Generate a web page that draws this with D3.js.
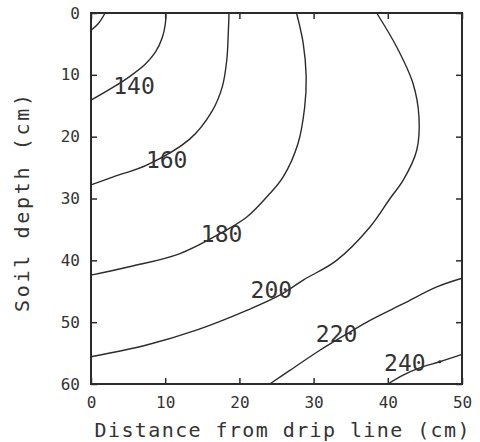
<!DOCTYPE html>
<html><head><meta charset="utf-8">
<script src="https://cdn.jsdelivr.net/npm/d3@7"></script>
<style>
html,body{margin:0;padding:0;background:#fff;}
svg{display:block;}
</style></head>
<body>
<svg id="chart" width="480" height="442"></svg>
<script>
// Contour lines: [distance (cm), depth (cm)]
const contour120 = [[1.9,0],[1.0,1.7],[0,2.8]];
const contour140 = [[10.1,0],[10.0,1.9],[9.6,4.0],[8.7,6.3],[7.3,8.3],[5.3,10.2],[3.0,12.0],[0,14.1]];
const contour160 = [[18.6,0],[18.5,3.3],[18.3,7.6],[17.7,11.9],[16.3,15.9],[13.3,20.4],[7.5,24.6],[3.0,26.5],[0,27.8]];
const contour180 = [[27.7,0],[28.6,4.9],[29.0,10.3],[28.8,15.2],[27.9,21.1],[25.9,26.5],[24.1,29.2],[21.0,33.0],[17.8,35.4],[12.0,38.9],[5.3,41.0],[0,42.4]];
const contour200 = [[38.5,0],[41.2,5.5],[43.4,11.4],[44.2,16.8],[43.9,22.2],[42.1,27.0],[40.3,30.0],[37.6,34.6],[33.1,40.0],[28.6,43.2],[25.5,45.6],[21.0,48.1],[14.2,51.3],[7.5,53.7],[0,55.6]];
const contour220 = [[50,42.9],[46.6,44.3],[42.1,47.0],[37.6,49.7],[34.9,51.6],[30.9,54.5],[26.8,57.8],[24.1,60]];
const contour240 = [[50,55.2],[47.0,56.4],[44.3,57.4],[42.0,58.6],[40.0,60]];
const contourLines = [contour120, contour140, contour160, contour180, contour200, contour220, contour240];

// Contour labels: text and position [distance, depth]
const labelTexts = ["140","160","180","200","220","240"];
const labelPositions = [[5.8,11.8],[10.2,23.8],[17.6,35.7],[24.3,44.8],[33.1,51.9],[42.3,56.6]];

const markerPoints = [[47.0,56.4]];

const xTickValues = [0,10,20,30,40,50];
const xTickLabels = ["0","10","20","30","40","50"];
const yTickValues = [0,10,20,30,40,50,60];
const yTickLabels = ["0","10","20","30","40","50","60"];

const xTitle = "Distance from drip line (cm)";
const yTitle = "Soil depth (cm)";

const svg = d3.select("#chart");
const m = {left:91, top:13, right:18, bottom:58};
const W = 480 - m.left - m.right, H = 442 - m.top - m.bottom;
const x = d3.scaleLinear().domain([0,50]).range([0,W]);
const y = d3.scaleLinear().domain([0,60]).range([0,H]);
const ink = "#2b2b2b";
const g = svg.append("g").attr("transform",`translate(${m.left},${m.top})`);

// contour lines
const line = d3.line().x(d=>x(d[0])).y(d=>y(d[1])).curve(d3.curveCatmullRom.alpha(0.5));
g.selectAll("path.c").data(contourLines).join("path")
  .attr("class","c").attr("d",line).attr("fill","none")
  .attr("stroke",ink).attr("stroke-width",1.4);

g.selectAll("circle.mk").data(markerPoints).join("circle")
  .attr("cx",d=>x(d[0])).attr("cy",d=>y(d[1])).attr("r",1.6).attr("fill",ink);

// labels
g.selectAll("text.lab").data(labelTexts).join("text")
  .attr("class","lab")
  .attr("x",(d,i)=>x(labelPositions[i][0]))
  .attr("y",(d,i)=>y(labelPositions[i][1]))
  .attr("dy","0.36em").attr("text-anchor","middle")
  .attr("font-family","DejaVu Sans Mono").attr("font-size",23)
  .attr("fill","#333").text(d=>d);

// axes
const fontTick = g=>g.selectAll("text").attr("font-family","DejaVu Sans Mono").attr("font-size",16).attr("fill","#333");
const styleAx = a=>{a.select(".domain").remove(); a.selectAll("line").attr("stroke",ink).attr("stroke-width",1.5);};

const xb = g.append("g").attr("transform",`translate(0,${H})`)
  .call(d3.axisBottom(x).tickValues(xTickValues).tickFormat((d,i)=>xTickLabels[i]).tickSizeInner(-6).tickSizeOuter(0).tickPadding(13));
styleAx(xb); fontTick(xb);
const yl = g.append("g")
  .call(d3.axisLeft(y).tickValues(yTickValues).tickFormat((d,i)=>yTickLabels[i]).tickSizeInner(-6).tickSizeOuter(0).tickPadding(11));
styleAx(yl); fontTick(yl);
const xt = g.append("g").call(d3.axisTop(x).tickValues(xTickValues).tickFormat("").tickSizeInner(-6).tickSizeOuter(0));
styleAx(xt);
const yr = g.append("g").attr("transform",`translate(${W},0)`)
  .call(d3.axisRight(y).tickValues(yTickValues).tickFormat("").tickSizeInner(-6).tickSizeOuter(0));
styleAx(yr);

// frame
g.append("rect").attr("width",W).attr("height",H).attr("fill","none")
  .attr("stroke",ink).attr("stroke-width",2);

// titles
svg.append("text").attr("x",282).attr("y",437).attr("text-anchor","middle")
  .attr("font-family","DejaVu Sans Mono").attr("font-size",20).attr("fill","#333")
  .attr("textLength",375).attr("lengthAdjust","spacing").text(xTitle);
svg.append("text").attr("transform","translate(29,203) rotate(-90)").attr("text-anchor","middle")
  .attr("font-family","DejaVu Sans Mono").attr("font-size",20).attr("fill","#333")
  .attr("textLength",218).attr("lengthAdjust","spacing").text(yTitle);
</script>
</body></html>
